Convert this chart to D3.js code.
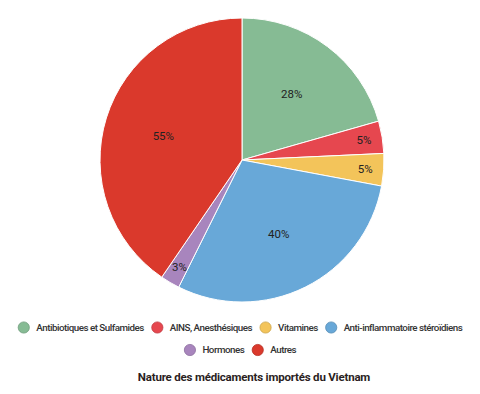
<!DOCTYPE html>
<html lang="fr">
<head>
<meta charset="UTF-8">
<title>Nature des médicaments importés du Vietnam</title>
<script src="https://d3js.org/d3.v7.min.js"></script>
<style>
    html, body { margin: 0; background: #fff; }
    svg text { font-family: Roboto, "Noto Sans", sans-serif; }
</style>
</head>
<body>
<div id="chart"></div>
<script>
    // valeurs (affichées telles quelles avec %)
    var categories = ["Antibiotiques et Sulfamides", "AINS, Anesthésiques", "Vitamines",
        "Anti-inflammatoire stéroïdiens", "Hormones", "Autres"];
    var values = [28, 5, 5, 40, 3, 55];
    var colors = ["#86bb94", "#e6474f", "#f3c45a", "#68a8d8", "#a885bd", "#da392c"];
    var title = "Nature des médicaments importés du Vietnam";

    var width = 480, height = 394;
    var cx = 242, cy = 160, radius = 142;

    var svg = d3.select("#chart").append("svg")
        .attr("width", width)
        .attr("height", height);

    var data = categories.map(function (c, i) {
        return { name: c, value: values[i], color: colors[i] };
    });

    var pie = d3.pie().sort(null).value(function (d) { return d.value; });
    var arc = d3.arc().innerRadius(0).outerRadius(radius);
    var arcs = pie(data);

    var g = svg.append("g").attr("transform", "translate(" + cx + "," + cy + ")");

    g.selectAll("path")
        .data(arcs)
        .enter().append("path")
        .attr("d", arc)
        .attr("fill", function (d) { return d.data.color; })
        .attr("stroke", "#fff")
        .attr("stroke-width", 1);

    // étiquettes: petites parts poussées vers l'extérieur
    g.selectAll("text")
        .data(arcs)
        .enter().append("text")
        .attr("transform", function (d) {
            var span = d.endAngle - d.startAngle;
            var r = span < 0.3 ? radius * 0.87 : radius * 0.58;
            var a = (d.startAngle + d.endAngle) / 2;
            return "translate(" + (Math.sin(a) * r) + "," + (-Math.cos(a) * r) + ")";
        })
        .attr("text-anchor", "middle")
        .attr("dy", "0.35em")
        .attr("font-size", 11.5)
        .attr("fill", "#222")
        .text(function (d) { return d.data.value + "%"; });

    // légende
    var rows = [[0, 1, 2, 3], [4, 5]];
    var rowY = [327.5, 350];
    var legend = svg.append("g")
        .attr("font-size", 9.8)
        .attr("font-weight", 500)
        .attr("letter-spacing", -0.5);

    rows.forEach(function (row, ri) {
        var items = row.map(function (i) {
            var t = legend.append("text").attr("fill", "#333").text(categories[i]);
            return { i: i, t: t, w: t.node().getComputedTextLength() };
        });
        var textOff = 18.5, gap = 7.5;
        var total = d3.sum(items, function (d) { return textOff + d.w; }) + gap * (items.length - 1);
        var x = (width - total) / 2;
        items.forEach(function (it) {
            legend.append("circle")
                .attr("cx", x + 6)
                .attr("cy", rowY[ri])
                .attr("r", 5.6)
                .attr("fill", colors[it.i])
                .attr("stroke", d3.color(colors[it.i]).darker(0.5))
                .attr("stroke-width", 0.8);
            it.t.attr("x", x + textOff).attr("y", rowY[ri]).attr("dy", "0.35em");
            x += textOff + it.w + gap;
        });
    });

    svg.append("text")
        .attr("x", 254)
        .attr("y", 377)
        .attr("dy", "0.35em")
        .attr("text-anchor", "middle")
        .attr("font-size", 11.5)
        .attr("font-weight", 700)
        .attr("letter-spacing", -0.2)
        .attr("fill", "#2a1e1e")
        .text(title);
</script>
</body>
</html>
